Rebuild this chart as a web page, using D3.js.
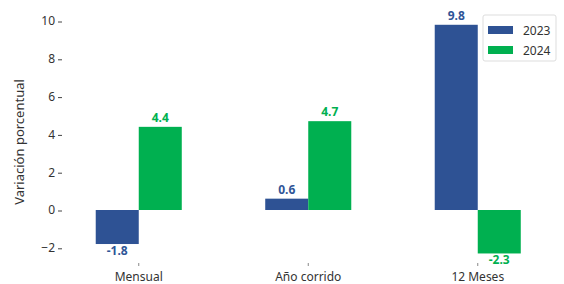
<!DOCTYPE html>
<html>
<head>
<meta charset="utf-8">
<script src="https://cdn.jsdelivr.net/npm/d3@7"></script>
<style>
  body { margin: 0; background: #fff; }
  text { font-family: "Noto Sans", sans-serif; }
</style>
</head>
<body>
<div id="chart"></div>
<script>
const categories = ["Mensual", "Año corrido", "12 Meses"];
const seriesNames = ["2023", "2024"];
const values2023 = [-1.8, 0.6, 9.8];
const values2024 = [4.4, 4.7, -2.3];
const yTicks = [-2, 0, 2, 4, 6, 8, 10];

const width = 564, height = 284;
const colors = { "2023": "#2E5294", "2024": "#00B050" };
const labelColors = { "2023": "#2F5597", "2024": "#00B050" };

const rows = categories.map((c, i) => ({
  cat: c,
  vals: [{ s: "2023", v: values2023[i] }, { s: "2024", v: values2024[i] }]
}));

const svg = d3.select('#chart')
  .append('svg')
  .attr('width', width)
  .attr('height', height);

const x0 = d3.scaleBand()
  .domain(categories)
  .range([54, 562.5])
  .padding(0);

const x1 = d3.scaleBand()
  .domain(seriesNames)
  .range([0, x0.bandwidth()])
  .paddingInner(0)
  .paddingOuter(0.97);

const y = d3.scaleLinear()
  .domain([-2, 10])
  .range([247.8, 21]);

// y axis tick labels
const yAxis = svg.append('g')
  .attr('transform', 'translate(62,0)')
  .call(d3.axisLeft(y).tickValues(yTicks).tickSize(4).tickPadding(3).tickFormat(d => d < 0 ? '\u2212' + Math.abs(d) : d));
yAxis.select('.domain').remove();
yAxis.selectAll('line').attr('stroke', '#444').attr('transform', 'translate(0,0.5)');
yAxis.selectAll('text').attr('font-size', 12).attr('fill', '#333').attr('font-family', '"Noto Sans", sans-serif');

svg.append('text')
  .attr('transform', 'translate(24,142) rotate(-90)')
  .attr('text-anchor', 'middle')
  .attr('font-size', 13)
  .attr('fill', '#333')
  .text('Variación porcentual');

// x axis
const xAxis = svg.append('g')
  .attr('transform', 'translate(0,263)')
  .call(d3.axisBottom(x0).tickSize(3).tickPadding(6));
xAxis.select('.domain').remove();
xAxis.selectAll('line').attr('stroke', '#888');
xAxis.selectAll('text').attr('font-size', 12).attr('fill', '#333').attr('font-family', '"Noto Sans", sans-serif');

// bars
const groups = svg.selectAll('.cat-group')
  .data(rows)
  .join('g')
    .attr('class', 'cat-group')
    .attr('transform', d => 'translate(' + x0(d.cat) + ',0)');

groups.selectAll('rect')
  .data(d => d.vals)
  .join('rect')
    .attr('x', d => x1(d.s))
    .attr('width', x1.bandwidth())
    .attr('y', d => y(Math.max(0, d.v)))
    .attr('height', d => Math.abs(y(d.v) - y(0)))
    .attr('fill', d => colors[d.s]);

groups.selectAll('.val')
  .data(d => d.vals)
  .join('text')
    .attr('class', 'val')
    .attr('x', d => x1(d.s) + x1.bandwidth() / 2)
    .attr('y', d => d.v >= 0 ? y(d.v) - 5 : y(d.v) + 10.5)
    .attr('text-anchor', 'middle')
    .attr('font-size', 12)
    .attr('font-weight', 'bold')
    .attr('fill', d => labelColors[d.s])
    .text(d => d.v.toFixed(1));

// legend
const legend = svg.append('g').attr('transform', 'translate(483,15)');
legend.append('rect')
  .attr('width', 73).attr('height', 46).attr('rx', 2)
  .attr('fill', '#fff').attr('stroke', '#ddd');
seriesNames.forEach((s, i) => {
  legend.append('rect')
    .attr('x', 5).attr('y', 11 + i * 20)
    .attr('width', 25).attr('height', 8)
    .attr('fill', colors[s]);
  legend.append('text')
    .attr('x', 40).attr('y', 19.5 + i * 20)
    .attr('font-size', 12)
    .attr('fill', '#333')
    .text(s);
});
</script>
</body>
</html>
